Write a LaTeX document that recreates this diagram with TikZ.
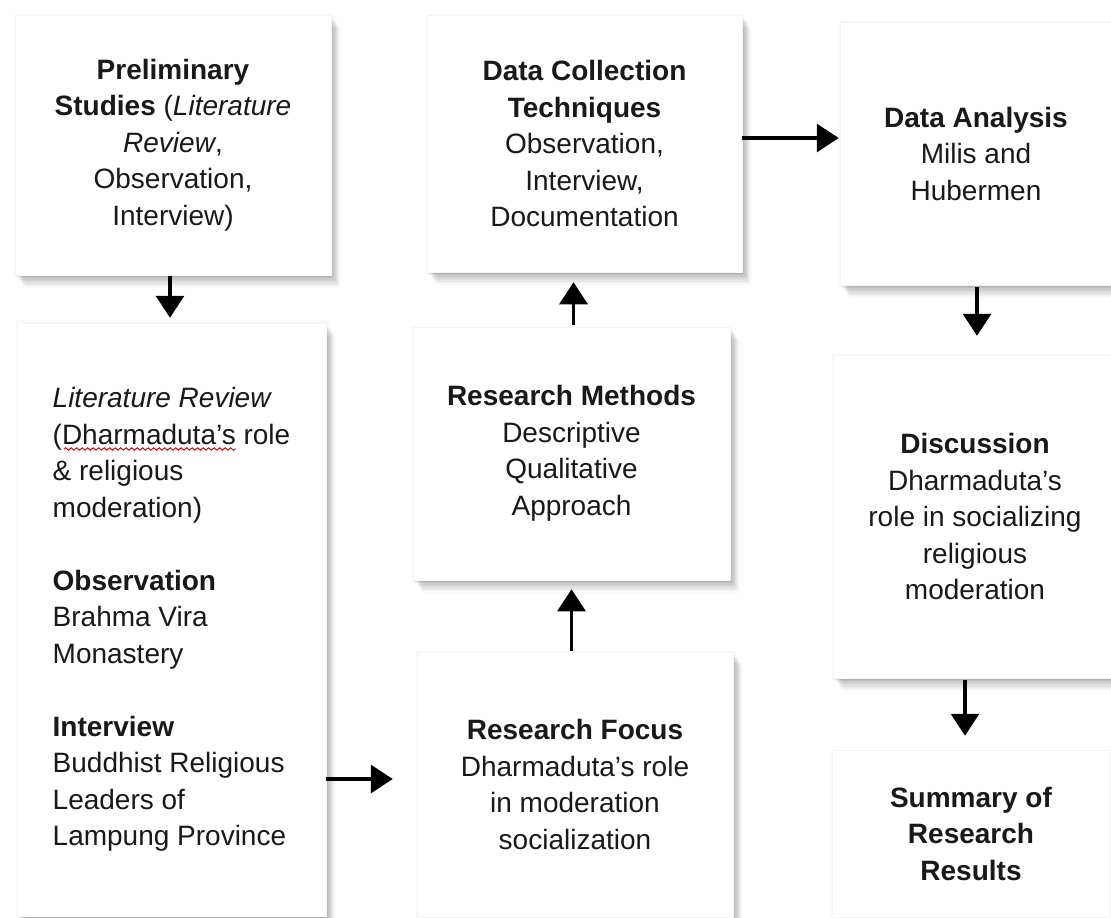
\documentclass[tikz,border=0pt]{standalone}
\usepackage{fontspec}
\setmainfont{Liberation Sans}
\usetikzlibrary{arrows.meta,shadows,decorations.pathmorphing,calc}
\tikzset{
  softshadow/.style={
    general shadow={fill=black, opacity=0.045, shadow xshift=1.2pt, shadow yshift=-1.6pt},
    general shadow={fill=black, opacity=0.045, shadow xshift=2.4pt, shadow yshift=-3.2pt},
    general shadow={fill=black, opacity=0.045, shadow xshift=3.6pt, shadow yshift=-4.8pt},
    general shadow={fill=black, opacity=0.045, shadow xshift=4.8pt, shadow yshift=-6.4pt},
    general shadow={fill=black, opacity=0.04, shadow xshift=6pt, shadow yshift=-8pt},
    general shadow={fill=black, opacity=0.035, shadow xshift=7.2pt, shadow yshift=-9.6pt},
    general shadow={fill=black, opacity=0.03, shadow xshift=8.4pt, shadow yshift=-11.2pt},
    general shadow={fill=black, opacity=0.025, shadow xshift=9.6pt, shadow yshift=-12.8pt},
    general shadow={fill=black, opacity=0.02, shadow xshift=1pt, shadow yshift=-1pt, shadow scale=1.012},
  },
  box/.style={softshadow, fill=white, draw=black!4, line width=0.5pt, inner sep=0pt,
    align=center, font=\fontsize{28}{36.5}\selectfont, text=black!90},
  arr/.style={line width=3.2pt, -{Triangle[width=28pt,length=22pt]}},
  squiggle/.style={draw=red!85!black, line width=0.9pt, decorate,
    decoration={snake, amplitude=1.3pt, segment length=5.5pt}},
}
\begin{document}
\begin{tikzpicture}[x=1pt,y=-1pt]
\useasboundingbox[fill=white] (0,0) rectangle (1111,918);

\node[box, minimum width=316pt, minimum height=260pt] (P1) at (173,145)
  {\textbf{Preliminary}\\\textbf{Studies} (\textit{Literature}\\\textit{Review},\\Observation,\\Interview)};

\node[box, align=left, minimum width=309pt, minimum height=593pt] (LR) at (171.5,619.5)
  {\textit{Literature Review}\\(Dharmaduta's role\\\& religious\\moderation)\\\strut\\
   \textbf{Observation}\\Brahma Vira\\Monastery\\\strut\\
   \textbf{Interview}\\Buddhist Religious\\Leaders of\\Lampung Province};

\node[box, minimum width=315pt, minimum height=257pt] (DC) at (584.5,143.5)
  {\textbf{Data Collection}\\\textbf{Techniques}\\Observation,\\Interview,\\Documentation};

\node[box, minimum width=317pt, minimum height=253pt] (RM) at (571.5,453.5)
  {\textbf{Research Methods}\\Descriptive\\Qualitative\\Approach};

\node[box, minimum width=316pt, minimum height=265pt] (RF) at (575,784.5)
  {\textbf{Research Focus}\\Dharmaduta's role\\in moderation\\socialization};

\node[box, minimum width=272pt, minimum height=263pt] (DA) at (976,153.5)
  {\textbf{Data Analysis}\\Milis and\\Hubermen};

\node[box, minimum width=284pt, minimum height=323pt] (DI) at (975,516.5)
  {\textbf{Discussion}\\Dharmaduta's\\role in socializing\\religious\\moderation};

\node[box, minimum width=278pt, minimum height=167pt] (SU) at (971,833.5)
  {\textbf{Summary of}\\\textbf{Research}\\\textbf{Results}};

% spell-check underline
\coordinate (sqA) at (64,449);
\coordinate (sqB) at (236,449);
\draw[squiggle] (sqA) -- (sqB);

% connectors
\draw[arr, shorten <=1pt, shorten >=5pt] ([xshift=-3pt]P1.south) -- ([xshift=-3pt]P1.south |- LR.north);
\draw[arr, shorten >=24pt] ([yshift=-159.5pt]LR.east) -- ([yshift=-159.5pt]LR.east -| RF.west);
\draw[arr, shorten <=1pt, shorten >=9pt] (RM.south |- RF.north) -- (RM.south);
\draw[arr, shorten <=2pt, shorten >=10pt] ([xshift=2pt]RM.north) -- ([xshift=2pt]RM.north |- DC.south);
\draw[arr, shorten >=1pt] ([yshift=5.5pt]DC.east) -- ([yshift=5.5pt]DC.east -| DA.west);
\draw[arr, shorten <=2pt, shorten >=19pt] ([xshift=1pt]DA.south) -- ([xshift=1pt]DA.south |- DI.north);
\draw[arr, shorten <=2pt, shorten >=14pt] ([xshift=-6pt]SU.north |- DI.south) -- ([xshift=-6pt]SU.north);
\end{tikzpicture}
\end{document}
